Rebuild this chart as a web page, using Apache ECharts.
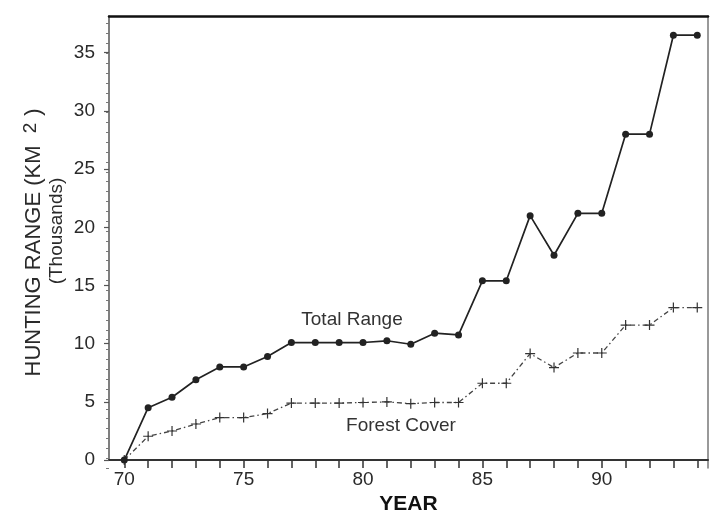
<!DOCTYPE html>
<html>
<head>
<meta charset="utf-8">
<script src="https://cdn.jsdelivr.net/npm/echarts@6/dist/echarts.min.js"></script>
<style>html,body{margin:0;padding:0;background:#fff;}#chart{width:712px;height:520px;}</style>
</head>
<body>
<div id="chart"></div>
<script>
// ---- data ----
const years = [70,71,72,73,74,75,76,77,78,79,80,81,82,83,84,85,86,87,88,89,90,91,92,93,94];
const totalRange = [0,4.5,5.4,6.9,8.0,8.0,8.9,10.1,10.1,10.1,10.1,10.25,9.95,10.9,10.75,15.4,15.4,21.0,17.6,21.2,21.2,28.0,28.0,36.5,36.5];
const forestCover = [0,2.05,2.5,3.1,3.65,3.65,4.0,4.9,4.9,4.9,4.95,5.0,4.85,4.95,4.95,6.6,6.6,9.15,7.95,9.2,9.2,11.6,11.6,13.1,13.1];
const xTickLabels = [70,75,80,85,90];
const yTickLabels = [0,5,10,15,20,25,30,35];
const seriesNames = ['Total Range','Forest Cover'];

const X_MIN = 69.36, X_MAX = 94.45, Y_MIN = 0, Y_MAX = 38.15;
const FONT = "'Liberation Sans', Arial, sans-serif";
const yMinor = [];
for (let v = 0; v <= Y_MAX + 1e-9; v += 5/6) yMinor.push(+v.toFixed(4));

const gridBox = {left:109, right:4, top:16, bottom:52};
const chart = echarts.init(document.getElementById('chart'));
const plus = 'path://M4.4,0H5.6V4.4H10V5.6H5.6V10H4.4V5.6H0V4.4H4.4Z';
const TXT = '#2a2a2a';

chart.setOption({
  animation:false,
  backgroundColor:'#fff',
  grid:[Object.assign({}, gridBox), Object.assign({}, gridBox)],
  xAxis:[
    {type:'value', gridIndex:0, position:'bottom', min:X_MIN, max:X_MAX,
     name:'YEAR', nameLocation:'middle', nameGap:30,
     nameTextStyle:{fontFamily:FONT, fontSize:21, fontWeight:'bold', color:'#111'},
     axisLine:{show:true, onZero:false, lineStyle:{color:'#333', width:2}},
     axisTick:{show:true, customValues:years, length:6, lineStyle:{color:'#333', width:1.5}},
     axisLabel:{show:true, customValues:xTickLabels, fontFamily:FONT, fontSize:19, color:TXT, margin:10},
     splitLine:{show:false}},
    {type:'value', gridIndex:1, position:'bottom', min:X_MIN, max:X_MAX,
     axisLine:{show:false, onZero:false},
     axisTick:{show:true, inside:true, customValues:years, length:5, lineStyle:{color:'#333', width:1.5}},
     axisLabel:{show:false}, splitLine:{show:false}},
    {type:'value', gridIndex:1, position:'top', min:X_MIN, max:X_MAX,
     axisLine:{show:true, onZero:false, lineStyle:{color:'#111', width:2.5}},
     axisTick:{show:false}, axisLabel:{show:false}, splitLine:{show:false}}
  ],
  yAxis:[
    {type:'value', gridIndex:0, position:'left', min:Y_MIN, max:Y_MAX,
     axisLine:{show:true, onZero:false, lineStyle:{color:'#555', width:1.5}},
     axisTick:{show:true, customValues:yTickLabels, length:5, lineStyle:{color:'#555', width:1.2}},
     axisLabel:{show:true, customValues:yTickLabels, fontFamily:FONT, fontSize:19, color:TXT, margin:14},
     splitLine:{show:false}},
    {type:'value', gridIndex:1, position:'left', min:Y_MIN, max:Y_MAX,
     axisLine:{show:false, onZero:false},
     axisTick:{show:true, customValues:yMinor, length:3, lineStyle:{color:'#777', width:1}},
     axisLabel:{show:false}, splitLine:{show:false}},
    {type:'value', gridIndex:1, position:'right', min:Y_MIN, max:Y_MAX,
     axisLine:{show:true, onZero:false, lineStyle:{color:'#777', width:1.5}},
     axisTick:{show:false}, axisLabel:{show:false}, splitLine:{show:false}}
  ],
  series:[
    {name:seriesNames[0], type:'line', xAxisIndex:0, yAxisIndex:0,
     data:years.map((y,i)=>[y,totalRange[i]]),
     symbol:'circle', symbolSize:7,
     itemStyle:{color:'#222'},
     lineStyle:{color:'#222', width:1.7}, z:3},
    {name:seriesNames[1], type:'line', xAxisIndex:0, yAxisIndex:0,
     data:years.map((y,i)=>[y,forestCover[i]]),
     symbol:plus, symbolSize:10,
     itemStyle:{color:'#333'},
     lineStyle:{color:'#444', width:1.3, type:[5,3,1.5,3]}, z:2}
  ],
  graphic:[
    {type:'text', x:352, y:320, style:{text:seriesNames[0], fontFamily:FONT, fontSize:19, fill:'#333', align:'center', verticalAlign:'middle'}},
    {type:'text', x:401, y:426, style:{text:seriesNames[1], fontFamily:FONT, fontSize:19, fill:'#333', align:'center', verticalAlign:'middle'}},
    {type:'text', x:34, y:261, rotation:Math.PI/2,
     style:{text:'HUNTING RANGE (KM', fontFamily:FONT, fontSize:22, fill:TXT, align:'center', verticalAlign:'middle'}},
    {type:'text', x:31, y:128, rotation:Math.PI/2,
     style:{text:'2', fontFamily:FONT, fontSize:19, fill:TXT, align:'center', verticalAlign:'middle'}},
    {type:'text', x:34, y:112, rotation:Math.PI/2,
     style:{text:')', fontFamily:FONT, fontSize:22, fill:TXT, align:'center', verticalAlign:'middle'}},
    {type:'text', x:57, y:231, rotation:Math.PI/2,
     style:{text:'(Thousands)', fontFamily:FONT, fontSize:19, fill:TXT, align:'center', verticalAlign:'middle'}}
  ]
});
</script>
</body>
</html>
